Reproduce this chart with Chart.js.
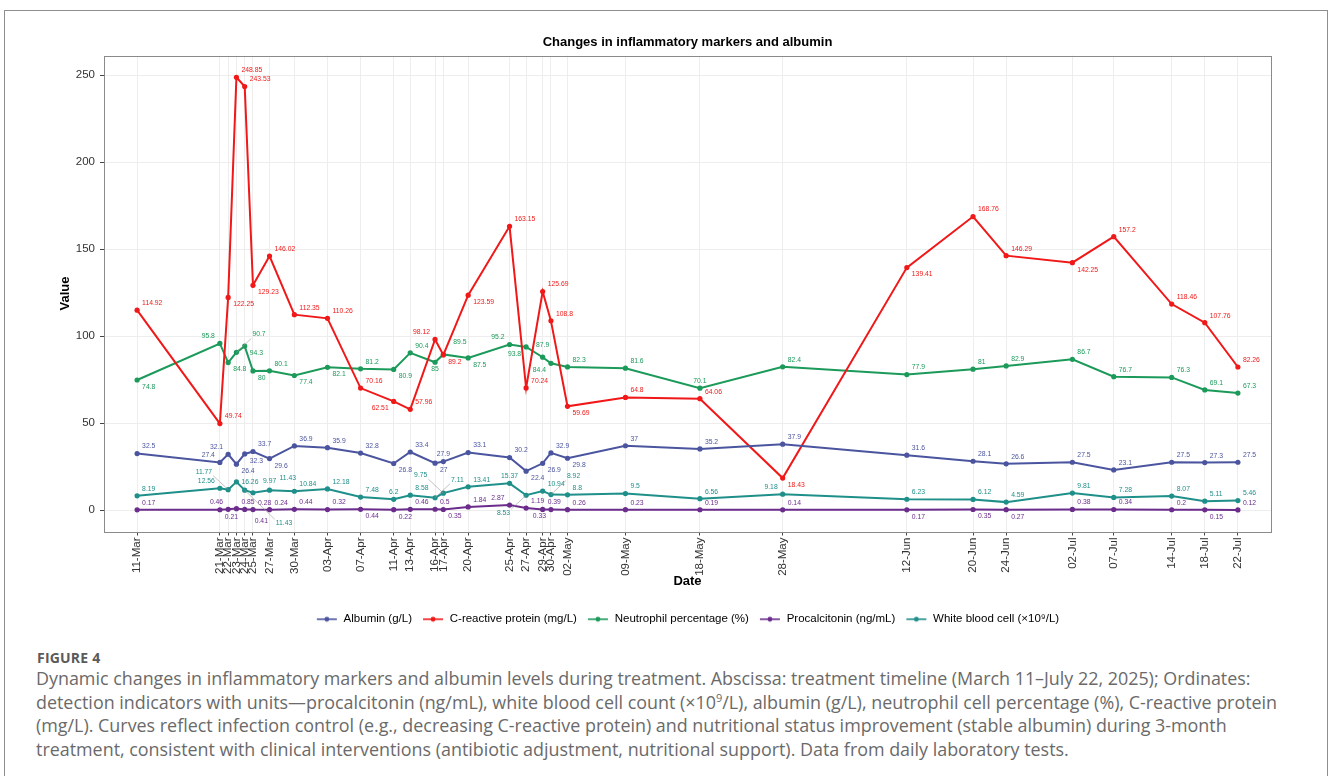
<!DOCTYPE html>
<html>
<head>
<meta charset="utf-8">
<script src="https://cdn.jsdelivr.net/npm/chart.js@4.4.1/dist/chart.umd.min.js"></script>
<style>
  html, body { margin: 0; padding: 0; background: #fff; width: 1328px; height: 776px; overflow: hidden; }
  #frame { position: absolute; left: 4px; top: 10px; width: 1324px; height: 800px; border: 1px solid #8e8e8e; box-sizing: border-box; }
  #chartBox { position: absolute; left: 0; top: 0; width: 1328px; height: 635px; }
  #figLabel { position: absolute; left: 37px; top: 648px; font: bold 14px "Open Sans", "Noto Sans", sans-serif; color: #5a5a5a; letter-spacing: 0.2px; }
  #caption { position: absolute; left: 36px; top: 667px; font: 17.9px/23.7px "Open Sans", "Noto Sans", sans-serif; color: #6a6a6a; white-space: nowrap; }
  #caption sup { font-size: 11px; line-height: 0; }
</style>
</head>
<body>
<div id="frame"></div>
<div id="chartBox"><canvas id="markerChart" width="1328" height="635"></canvas></div>
<div id="figLabel">FIGURE 4</div>
<div id="caption">
  <div class="ln">Dynamic changes in inflammatory markers and albumin levels during treatment. Abscissa: treatment timeline (March 11–July 22, 2025); Ordinates:</div>
  <div class="ln">detection indicators with units—procalcitonin (ng/mL), white blood cell count (×10<sup>9</sup>/L), albumin (g/L), neutrophil cell percentage (%), C-reactive protein</div>
  <div class="ln">(mg/L). Curves reflect infection control (e.g., decreasing C-reactive protein) and nutritional status improvement (stable albumin) during 3-month</div>
  <div class="ln">treatment, consistent with clinical interventions (antibiotic adjustment, nutritional support). Data from daily laboratory tests.</div>
</div>
<script>
// sampling dates (2025)
const dateLabels = ['11-Mar', '21-Mar', '22-Mar', '23-Mar', '24-Mar', '25-Mar', '27-Mar', '30-Mar',
    '03-Apr', '07-Apr', '11-Apr', '13-Apr', '16-Apr', '17-Apr', '20-Apr', '25-Apr', '27-Apr', '29-Apr', '30-Apr',
    '02-May', '09-May', '18-May', '28-May', '12-Jun', '20-Jun', '24-Jun', '02-Jul', '07-Jul', '14-Jul', '18-Jul', '22-Jul'];

const albumin = [32.5, 27.4, 32.1, 26.4, 32.3, 33.7, 29.6, 36.9, 35.9, 32.8, 26.8, 33.4, 27, 27.9, 33.1, 30.2,
    22.4, 26.9, 32.9, 29.8, 37, 35.2, 37.9, 31.6, 28.1, 26.6, 27.5, 23.1, 27.5, 27.3, 27.5];
const crp = [114.92, 49.74, 122.25, 248.85, 243.53, 129.23, 146.02, 112.35, 110.26, 70.16, 62.51, 57.96, 98.12,
    89.2, 123.59, 163.15, 70.24, 125.69, 108.8, 59.69, 64.8, 64.06, 18.43, 139.41, 168.76, 146.29, 142.25, 157.2,
    118.46, 107.76, 82.26];
const neutrophil = [74.8, 95.8, 84.8, 90.7, 94.3, 80, 80.1, 77.4, 82.1, 81.2, 80.9, 90.4, 85, 89.5, 87.5, 95.2,
    93.8, 87.9, 84.4, 82.3, 81.6, 70.1, 82.4, 77.9, 81, 82.9, 86.7, 76.7, 76.3, 69.1, 67.3];
const procalcitonin = [0.17, 0.21, 0.46, 0.85, 0.41, 0.28, 0.24, 0.44, 0.32, 0.44, 0.22, 0.46, 0.5, 0.35, 1.84,
    2.87, 1.19, 0.39, 0.33, 0.26, 0.23, 0.19, 0.14, 0.17, 0.35, 0.27, 0.38, 0.34, 0.2, 0.15, 0.12];
const wbc = [8.19, 12.56, 11.77, 16.26, 11.43, 9.97, 11.43, 10.84, 12.18, 7.48, 6.2, 8.58, 7.11, 9.75, 13.41,
    15.37, 8.53, 10.94, 8.92, 8.8, 9.5, 6.56, 9.18, 6.23, 6.12, 4.59, 9.81, 7.28, 8.07, 5.11, 5.46];

const yTicks = [0, 50, 100, 150, 200, 250];

const seriesNames = ['Albumin (g/L)', 'C-reactive protein (mg/L)', 'Neutrophil percentage (%)',
    'Procalcitonin (ng/mL)', 'White blood cell (×10⁹/L)'];
const seriesColors = ['#4b559f', '#f01818', '#1b9a5a', '#6b2c8c', '#1f8f8a'];

// day number counted from 11-Mar
const monthStart = { Mar: 0, Apr: 31, May: 61, Jun: 92, Jul: 122 };
const dayNum = dateLabels.map(d => {
    const [dd, mm] = d.split('-');
    return monthStart[mm] + parseInt(dd, 10) - 11;
});

const toPoints = arr => arr.map((v, i) => ({ x: dayNum[i], y: v }));
const allSeries = [albumin, crp, neutrophil, procalcitonin, wbc];

// legend key: line with dot
const legendIcons = seriesColors.map(c => {
    const cv = document.createElement('canvas');
    cv.width = 22; cv.height = 8;
    const g = cv.getContext('2d');
    g.strokeStyle = c; g.lineWidth = 1.6;
    g.beginPath(); g.moveTo(1, 4); g.lineTo(21, 4); g.stroke();
    g.fillStyle = c;
    g.beginPath(); g.arc(11, 4, 2.4, 0, Math.PI * 2); g.fill();
    return cv;
});

function segHitsRect(s, r) {
    const [x1, y1, x2, y2] = s;
    const dx = x2 - x1, dy = y2 - y1;
    let t0 = 0, t1 = 1;
    const p = [-dx, dx, -dy, dy];
    const q = [x1 - r.l, r.r - x1, y1 - r.t, r.b - y1];
    for (let k = 0; k < 4; k++) {
        if (p[k] === 0) {
            if (q[k] < 0) return false;
        } else {
            const t = q[k] / p[k];
            if (p[k] < 0) {
                if (t > t1) return false;
                if (t > t0) t0 = t;
            } else {
                if (t < t0) return false;
                if (t < t1) t1 = t;
            }
        }
    }
    return true;
}

const overlap = (a, b) => a.l < b.r && a.r > b.l && a.t < b.b && a.b > b.t;

// value labels placed around each point, avoiding each other (ggrepel-like)
const repelLabels = {
    id: 'repelLabels',
    afterDatasetsDraw(chart) {
        const ctx = chart.ctx;
        const area = chart.chartArea;
        ctx.save();
        ctx.font = '6.8px "Liberation Sans", Arial, sans-serif';
        ctx.textAlign = 'center';
        ctx.textBaseline = 'middle';

        const pts = [];
        const segs = [];
        chart.data.datasets.forEach((ds, di) => {
            const meta = chart.getDatasetMeta(di);
            meta.data.forEach((el, i) => {
                pts.push({ l: el.x - 3, r: el.x + 3, t: el.y - 3, b: el.y + 3 });
                if (i > 0) segs.push([meta.data[i - 1].x, meta.data[i - 1].y, el.x, el.y]);
            });
        });

        const dirs = [[1, -1], [1, 1], [-1, -1], [-1, 1], [0, -1], [0, 1], [1, 0], [-1, 0]];
        const radii = [3, 8, 14, 21, 29];
        const placed = [];

        chart.data.datasets.forEach((ds, di) => {
            const meta = chart.getDatasetMeta(di);
            meta.data.forEach((el, i) => {
                const txt = String(allSeries[di][i]);
                const w = ctx.measureText(txt).width + 2;
                const h = 8;
                let best = null;
                radii.forEach(rad => {
                    dirs.forEach(([sx, sy], k) => {
                        const cx = el.x + sx * (w / 2 + rad + 1);
                        const cy = el.y + sy * (h / 2 + rad);
                        const r = { l: cx - w / 2, r: cx + w / 2, t: cy - h / 2, b: cy + h / 2 };
                        let score = rad * 0.35 + k * 0.05;
                        if (r.l < area.left || r.r > area.right || r.t < area.top || r.b > area.bottom) score += 1000;
                        placed.forEach(p => { if (overlap(r, p)) score += 100; });
                        pts.forEach(p => { if (overlap(r, p)) score += 20; });
                        segs.forEach(s => { if (segHitsRect(s, r)) score += 4; });
                        if (!best || score < best.score) best = { score, cx, cy, r, rad };
                    });
                });
                placed.push(best.r);
                if (best.rad >= 14) {
                    const ex = Math.max(best.r.l, Math.min(el.x, best.r.r));
                    const ey = Math.max(best.r.t, Math.min(el.y, best.r.b));
                    ctx.strokeStyle = '#9a9a9a';
                    ctx.lineWidth = 0.6;
                    ctx.beginPath(); ctx.moveTo(el.x, el.y); ctx.lineTo(ex, ey); ctx.stroke();
                }
                ctx.fillStyle = seriesColors[di];
                ctx.fillText(txt, best.cx, best.cy);
            });
        });
        ctx.restore();
    }
};

const panelBorder = {
    id: 'panelBorder',
    afterDraw(chart) {
        const { ctx, chartArea: a } = chart;
        ctx.save();
        ctx.strokeStyle = '#8a8a8a';
        ctx.lineWidth = 1;
        ctx.strokeRect(Math.round(a.left) + 0.5, Math.round(a.top) + 0.5,
            Math.round(a.right - a.left), Math.round(a.bottom - a.top));
        ctx.restore();
    }
};

const ctx = document.getElementById('markerChart').getContext('2d');
new Chart(ctx, {
    type: 'line',
    data: {
        datasets: allSeries.map((arr, i) => ({
            label: seriesNames[i],
            data: toPoints(arr),
            borderColor: seriesColors[i],
            backgroundColor: seriesColors[i],
            borderWidth: 2,
            pointRadius: 2.6,
            pointHoverRadius: 2.6,
            pointBorderWidth: 0,
            tension: 0
        }))
    },
    options: {
        responsive: false,
        animation: false,
        devicePixelRatio: 1,
        layout: { padding: { left: 24, right: 57, top: 0, bottom: 0 } },
        plugins: {
            title: {
                display: true,
                text: 'Changes in inflammatory markers and albumin',
                fullSize: false,
                color: '#000',
                font: { family: '"Liberation Sans", Arial, sans-serif', size: 13, weight: 'bold' },
                padding: { top: 35, bottom: 5 }
            },
            legend: {
                position: 'bottom',
                fullSize: false,
                labels: {
                    usePointStyle: true,
                    pointStyleWidth: 22,
                    boxHeight: 8,
                    padding: 10,
                    color: '#000',
                    font: { family: '"Liberation Sans", Arial, sans-serif', size: 11.5 },
                    generateLabels: chart => Chart.defaults.plugins.legend.labels.generateLabels(chart)
                        .map((item, i) => Object.assign(item, { pointStyle: legendIcons[i] }))
                }
            },
            tooltip: { enabled: false }
        },
        scales: {
            x: {
                type: 'linear',
                min: -4,
                max: 137,
                afterBuildTicks: scale => { scale.ticks = dayNum.map(v => ({ value: v })); },
                afterFit: scale => { scale.height = 72; },
                border: { display: false },
                grid: { color: '#ededed', tickColor: '#444', tickLength: 4, lineWidth: 1 },
                ticks: {
                    autoSkip: false,
                    minRotation: 90,
                    maxRotation: 90,
                    padding: 2,
                    color: '#333',
                    font: { family: '"Liberation Sans", Arial, sans-serif', size: 11.5 },
                    callback: (value, index) => dateLabels[index]
                },
                title: {
                    display: true,
                    text: 'Date',
                    color: '#000',
                    font: { family: '"Liberation Sans", Arial, sans-serif', size: 13, weight: 'bold' },
                    padding: { top: 0, bottom: 14 }
                }
            },
            y: {
                min: -12.3,
                max: 261.3,
                afterBuildTicks: scale => { scale.ticks = yTicks.map(v => ({ value: v })); },
                afterFit: scale => { scale.width = 80; },
                border: { display: false },
                grid: { color: '#ededed', tickColor: '#444', tickLength: 4, lineWidth: 1 },
                ticks: {
                    padding: 5,
                    color: '#333',
                    font: { family: '"Liberation Sans", Arial, sans-serif', size: 11.5 }
                },
                title: {
                    display: true,
                    text: 'Value',
                    color: '#000',
                    font: { family: '"Liberation Sans", Arial, sans-serif', size: 13, weight: 'bold' },
                    padding: { top: 34, bottom: 0 }
                }
            }
        }
    },
    plugins: [repelLabels, panelBorder]
});
</script>
</body>
</html>
